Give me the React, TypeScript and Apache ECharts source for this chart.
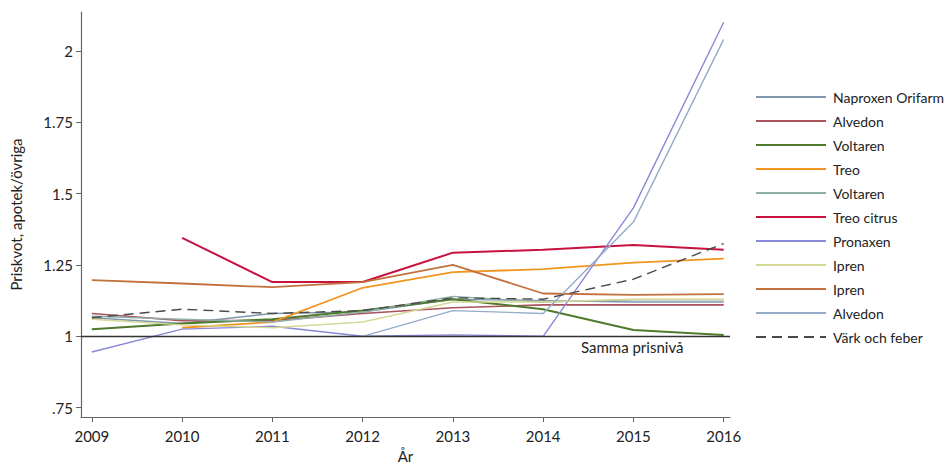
import React, { useEffect, useRef } from "react";
import * as echarts from "echarts";

const years = [2009, 2010, 2011, 2012, 2013, 2014, 2015, 2016];
const yTicks = [0.75, 1, 1.25, 1.5, 1.75, 2];

const seriesNames = [
  "Naproxen Orifarm",
  "Alvedon",
  "Voltaren",
  "Treo",
  "Voltaren",
  "Treo citrus",
  "Pronaxen",
  "Ipren",
  "Ipren",
  "Alvedon",
  "Värk och feber",
];
const colors = [
  "#7f96ad",
  "#a9525c",
  "#4f7a2c",
  "#f0951f",
  "#8fb0a8",
  "#c8123e",
  "#8a88d8",
  "#d5d894",
  "#c2703e",
  "#95acc8",
  "#4a4a4a",
];
const widths = [1.4, 1.6, 2, 1.8, 1.4, 2, 1.4, 1.4, 1.8, 1.4, 1.4];

const naproxenOrifarm = [1.065, 1.045, 1.08, 1.085, 1.13, 1.125, 1.12, 1.12];
const alvedon1 = [1.08, 1.055, 1.055, 1.08, 1.1, 1.11, 1.11, 1.11];
const voltaren1 = [1.025, 1.045, 1.06, 1.09, 1.13, 1.095, 1.022, 1.005];
const treo = [null, 1.03, 1.05, 1.17, 1.225, 1.235, 1.258, 1.272];
const voltaren2 = [1.07, 1.06, 1.05, 1.085, 1.14, 1.12, 1.128, 1.128];
const treoCitrus = [null, 1.345, 1.19, 1.19, 1.293, 1.303, 1.32, 1.303];
const pronaxen = [0.945, 1.025, 1.035, 1.0, 1.005, 1.0, 1.45, 2.1];
const ipren1 = [1.06, 1.04, 1.03, 1.05, 1.12, 1.12, 1.13, 1.13];
const ipren2 = [1.197, 1.185, 1.172, 1.19, 1.25, 1.15, 1.145, 1.148];
const alvedon2 = [null, null, null, 1.0, 1.09, 1.08, 1.4, 2.04];
const varkOchFeber = [1.065, 1.095, 1.08, 1.09, 1.135, 1.13, 1.2, 1.325];

const allValues = [
  naproxenOrifarm,
  alvedon1,
  voltaren1,
  treo,
  voltaren2,
  treoCitrus,
  pronaxen,
  ipren1,
  ipren2,
  alvedon2,
  varkOchFeber,
];

const FONT = "Lato";
const uid = (i: number) => seriesNames[i] + "#" + i;

export default function App() {
  const ref = useRef<HTMLDivElement>(null);
  useEffect(() => {
    if (!ref.current) return;
    const chart = echarts.init(ref.current, null, { renderer: "svg" });
    const series: any[] = allValues.map((vals, i) => ({
      name: uid(i),
      type: "line",
      symbol: "none",
      data: vals.map((v, j) => [years[j], v]),
      lineStyle: {
        color: colors[i],
        width: widths[i],
        type: i === 10 ? [10, 6] : "solid",
      },
      itemStyle: { color: colors[i] },
      z: i === 10 ? 5 : 3,
    }));
    series.push({
      name: "ref",
      type: "line",
      data: [],
      silent: true,
      markLine: {
        silent: true,
        symbol: "none",
        label: { show: false },
        lineStyle: { color: "#333", width: 1.3, type: "solid" },
        data: [{ yAxis: 1 }],
      },
    });
    chart.setOption({
      animation: false,
      backgroundColor: "#fff",
      grid: { left: 79, right: 218, top: 12, height: 410 },
      legend: {
        orient: "vertical",
        left: 750,
        top: 85,
        itemWidth: 70,
        itemHeight: 14,
        itemGap: 10,
        data: seriesNames.map((n, i) => ({ name: uid(i) })),
        formatter: (name: string) => name.split("#")[0],
        itemStyle: { opacity: 0 },
        textStyle: { fontFamily: FONT, fontSize: 14, color: "#222", padding: [0, 0, 0, 2] },
        selectedMode: false,
      },
      xAxis: {
        type: "value",
        min: 2008.88,
        max: 2016.07,
        name: "År",
        nameLocation: "middle",
        nameGap: 27,
        nameTextStyle: { fontFamily: FONT, fontSize: 15, color: "#222" },
        axisLine: { show: true, lineStyle: { color: "#666", width: 1.2 } },
        axisTick: { show: true, customValues: years, length: 5, lineStyle: { color: "#666" } },
        axisLabel: {
          customValues: years,
          fontFamily: FONT,
          fontSize: 15,
          color: "#222",
          margin: 11,
          formatter: (v: number) => String(v),
        },
        splitLine: { show: false },
      },
      yAxis: {
        type: "value",
        min: 0.717,
        max: 2.136,
        name: "Priskvot, apotek/övriga",
        nameLocation: "middle",
        nameGap: 58,
        nameTextStyle: { fontFamily: FONT, fontSize: 15, color: "#222" },
        axisLine: { show: true, lineStyle: { color: "#666", width: 1.2 } },
        axisTick: { show: true, customValues: yTicks, length: 5, lineStyle: { color: "#666" } },
        axisLabel: {
          customValues: yTicks,
          fontFamily: FONT,
          fontSize: 15,
          color: "#222",
          margin: 8,
          formatter: (v: number) => {
            const s = String(v);
            return s.startsWith("0.") ? s.slice(1) : s;
          },
        },
        splitLine: { show: false },
      },
      graphic: [
        {
          type: "text",
          left: 581,
          top: 339,
          style: { text: "Samma prisnivå", fontFamily: FONT, fontSize: 15, fill: "#222" },
        },
      ],
      series,
    });
    return () => chart.dispose();
  }, []);
  return (
    <div
      ref={ref}
      style={{ position: "fixed", left: 0, top: 0, width: 948, height: 468 }}
    />
  );
}
